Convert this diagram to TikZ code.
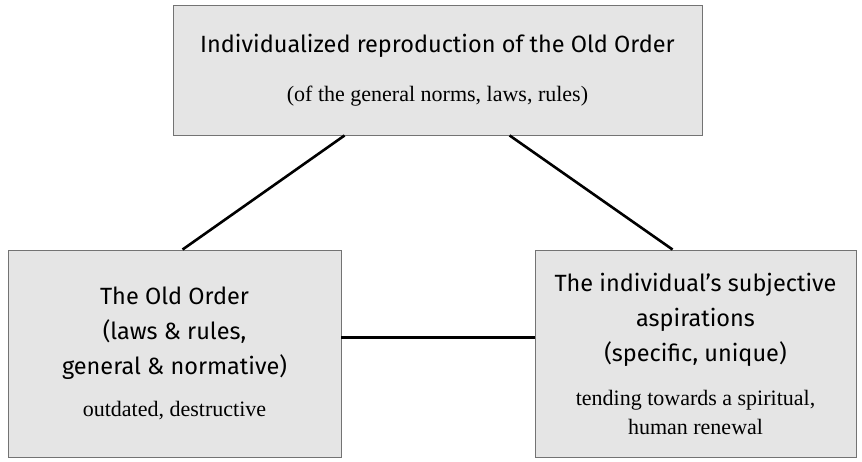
\documentclass[tikz,border=0pt]{standalone}
\usepackage{fontspec}
\setmainfont{Liberation Serif}
\setsansfont{Fira Sans}

\tikzset{
  box/.style={draw=black!55, fill=black!10, line width=0.9pt, align=center, inner sep=0pt,
    font=\sffamily\fontsize{23.5}{35}\selectfont},
  link/.style={line width=2.6pt},
}
\newcommand{\remark}[1]{{\rmfamily\fontsize{22}{20}\selectfont #1}}

\begin{document}
\begin{tikzpicture}[x=1pt,y=1pt]
    \useasboundingbox (0,0) rectangle (862,461);
    \node[box,minimum width=529pt,minimum height=130pt] (top) at (437.5,391)
        {Individualized reproduction of the Old Order\\[14pt]
         \remark{(of the general norms, laws, rules)}};
    \node[box,minimum width=333pt,minimum height=207pt] (old) at (174.5,107.5)
        {The Old Order\\(laws \& rules,\\general \& normative)\\[7pt]
         \remark{outdated, destructive}};
    \node[box,minimum width=321pt,minimum height=207pt] (self) at (695.5,107.5)
        {The individual’s subjective\\aspirations\\(specific, unique)\\[9pt]
         \remark{tending towards a spiritual,}\\[-6pt]
         \remark{human renewal}};
    \draw[link] ([xshift=172pt]top.south west) -- ([xshift=175pt]old.north west);
    \draw[link] ([xshift=337pt]top.south west) -- ([xshift=138pt]self.north west);
    \draw[link] ([yshift=16pt]old.east) -- ([yshift=16pt]self.west);
\end{tikzpicture}
\end{document}
